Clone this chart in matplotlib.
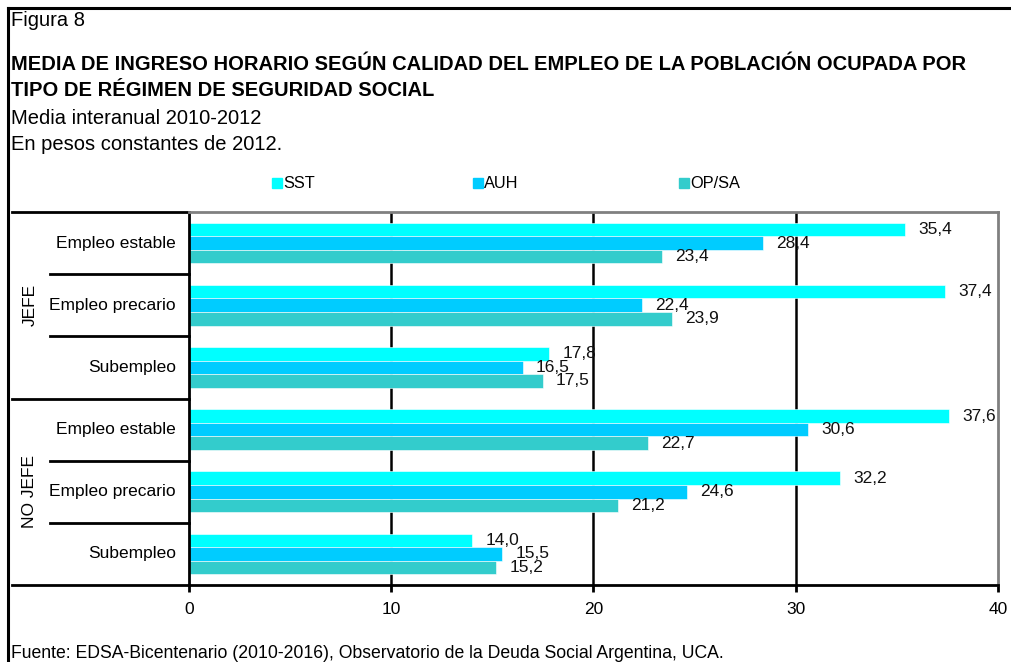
import matplotlib

matplotlib.use("Agg")
import matplotlib.pyplot as plt
from matplotlib.lines import Line2D
from matplotlib.patches import Rectangle
import numpy as np

plt.rcParams["font.family"] = ["Liberation Sans", "DejaVu Sans"]

# data
groups = ["JEFE", "NO JEFE"]
categories = ["Empleo estable", "Empleo precario", "Subempleo"] * 2
series = ["SST", "AUH", "OP/SA"]
sst = [35.4, 37.4, 17.8, 37.6, 32.2, 14.0]
auh = [28.4, 22.4, 16.5, 30.6, 24.6, 15.5]
opsa = [23.4, 23.9, 17.5, 22.7, 21.2, 15.2]
colors = ["#00FFFF", "#00CCFF", "#33CCCC"]

W, H = 1012, 662
fig = plt.figure(figsize=(W / 100, H / 100), dpi=100)


def fx(px):
    return px / W


def fy(py):
    return 1 - py / H


ax = fig.add_axes([fx(189), fy(585), fx(998) - fx(189), fy(212) - fy(585)])

n = len(categories)
y = np.arange(n)
bh = 0.218
for k, vals in enumerate([sst, auh, opsa]):
    pos = y + (k - 1) * bh
    ax.barh(pos, vals, height=bh, color=colors[k], edgecolor="white",
            linewidth=0.4, zorder=2)
    for p, v in zip(pos, vals):
        ax.text(v + 0.65, p, f"{v:.1f}".replace(".", ","), va="center",
                ha="left", fontsize=12.5, color="#111", zorder=3)

ax.set_xlim(0, 40)
ax.set_ylim(n - 0.5, -0.5)
ax.set_xticks([0, 10, 20, 30, 40])
ax.set_yticks([])
ax.tick_params(axis="x", length=5, width=2, labelsize=12.5, pad=7)
for xv in [10, 20, 30]:
    ax.axvline(xv, color="black", linewidth=1.8, zorder=1)
for side in ["top", "right"]:
    ax.spines[side].set_color("#808080")
    ax.spines[side].set_linewidth(2)
for side in ["left", "bottom"]:
    ax.spines[side].set_color("black")
    ax.spines[side].set_linewidth(2)

# category labels and separators on the left
tr = ax.get_yaxis_transform()
x_long = (12 - 189) / (998 - 189)
x_short = (50 - 189) / (998 - 189)
for yy in [-0.5, 2.5, 5.5]:
    ax.add_line(Line2D([x_long, 0], [yy, yy], transform=tr, color="black",
                       linewidth=2, clip_on=False))
for yy in [0.5, 1.5, 3.5, 4.5]:
    ax.add_line(Line2D([x_short, 0], [yy, yy], transform=tr, color="black",
                       linewidth=2, clip_on=False))
x_cat = (176 - 189) / (998 - 189)
for yy, cat in zip(y, categories):
    ax.text(x_cat, yy, cat, transform=tr, ha="right", va="center", fontsize=12.5)
x_grp = (30 - 189) / (998 - 189)
for g, name in enumerate(groups):
    ax.text(x_grp, g * 3 + 1, name, transform=tr, ha="center", va="center",
            rotation=90, fontsize=12.5)

# legend drawn by hand so the columns sit where the original has them
leg_x = [272, 473, 679]
for lx, name, c in zip(leg_x, series, colors):
    fig.patches.append(Rectangle((fx(lx), fy(188)), fx(10), 10 / H, color=c,
                                 transform=fig.transFigure))
    fig.text(fx(lx + 11), fy(183), name, ha="left", va="center", fontsize=11.8)

# texts
fig.text(fx(11), fy(21), "Figura 8", ha="left", va="center", fontsize=14.5)
fig.text(fx(11), fy(64), "MEDIA DE INGRESO HORARIO SEGÚN CALIDAD DEL EMPLEO DE LA POBLACIÓN OCUPADA POR",
         ha="left", va="center", fontsize=14.5, fontweight="bold")
fig.text(fx(11), fy(90), "TIPO DE RÉGIMEN DE SEGURIDAD SOCIAL",
         ha="left", va="center", fontsize=14.5, fontweight="bold")
fig.text(fx(11), fy(118), "Media interanual 2010-2012", ha="left", va="center", fontsize=14.5)
fig.text(fx(11), fy(145), "En pesos constantes de 2012.", ha="left", va="center", fontsize=14.5)
fig.text(fx(11), fy(653), "Fuente: EDSA-Bicentenario (2010-2016), Observatorio de la Deuda Social Argentina, UCA.",
         ha="left", va="center", fontsize=12.7)

# outer frame (left and top edges visible in the original)
fig.add_artist(Line2D([fx(8), fx(8)], [fy(8), 0], color="black", linewidth=2.2,
                      transform=fig.transFigure))
fig.add_artist(Line2D([fx(8), 1], [fy(8), fy(8)], color="black", linewidth=2.2,
                      transform=fig.transFigure))

fig.savefig("out.png", dpi=100)
